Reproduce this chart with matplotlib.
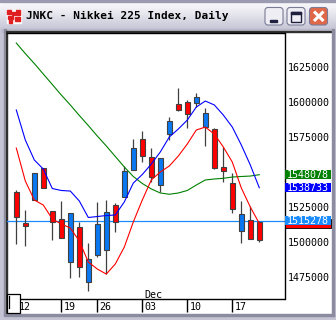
import matplotlib
matplotlib.use('Agg')
import matplotlib.pyplot as plt
import numpy as np
from matplotlib.patches import Rectangle, FancyBboxPatch
from matplotlib.transforms import offset_copy

# Daily candles, Nov 12 - Dec 20 (price x100)
opens = [1535900, 1513800, 1530000, 1552600, 1522500, 1516300, 1485400, 1510500,
         1471200, 1490700, 1494100, 1526600, 1532400, 1551100, 1573400, 1560600,
         1540700, 1576900, 1598600, 1600000, 1599100, 1581900, 1580500, 1553400,
         1542100, 1508100, 1515700, 1514100]
highs = [1537100, 1522900, 1549100, 1552600, 1522500, 1529300, 1520400, 1514100,
         1499300, 1528400, 1530000, 1527600, 1554300, 1573700, 1579500, 1567100,
         1560000, 1589300, 1609800, 1601200, 1606400, 1595500, 1581400, 1568100,
         1549300, 1529300, 1525400, 1515200]
lows = [1498400, 1497400, 1530000, 1538400, 1501600, 1503100, 1474100, 1475200,
        1465200, 1489500, 1477400, 1507100, 1532400, 1551100, 1556800, 1543100,
        1535900, 1573100, 1593600, 1581200, 1596200, 1568800, 1551900, 1542900,
        1520500, 1499100, 1501900, 1500200]
closes = [1518100, 1511200, 1549100, 1538400, 1514300, 1503100, 1520400, 1482400,
          1487600, 1512900, 1521200, 1514300, 1550700, 1566900, 1561600, 1546600,
          1560000, 1586600, 1594500, 1591200, 1603400, 1591900, 1552600, 1550400,
          1523900, 1520000, 1501900, 1501600]

ma_red = [1567100, 1543600, 1530000, 1526400, 1516400, 1512900, 1510000, 1500700,
          1485700, 1480700, 1477100, 1484300, 1496400, 1514300, 1530000, 1544300,
          1550000, 1554300, 1561400, 1570000, 1580000, 1582100, 1577100, 1567900,
          1557100, 1538600, 1525000, 1513300]
ma_blue = [1594300, 1572900, 1558600, 1552100, 1538200, 1536800, 1536400, 1529300,
           1517500, 1518200, 1518900, 1519300, 1528600, 1542100, 1548200, 1555700,
           1564300, 1575000, 1580700, 1587100, 1596400, 1600700, 1597900, 1590700,
           1582100, 1569300, 1555000, 1538733]
ma_green = [1642100, 1634600, 1627500, 1620000, 1612500, 1605000, 1597900, 1590400,
            1583200, 1575700, 1568600, 1561100, 1553600, 1546800, 1541800, 1537900,
            1535000, 1534100, 1535000, 1536800, 1540700, 1544300, 1545000, 1545500,
            1546400, 1546800, 1547100, 1548078]
last_line = 1515278

monday_idx = [0, 5, 9, 14, 19, 24]
monday_labels = ['12', '19', '26', '03', '10', '17']
grid_cols = [0, 5, 9, 14, 19, 24, 29]
price_ticks = [1475000, 1500000, 1525000, 1575000, 1600000, 1625000]

W, H = 336, 320
fig = plt.figure(figsize=(W / 100, H / 100), dpi=100)
fig.patch.set_facecolor('#c4c4d4')


def rect(x0, y0, x1, y1):
    return [x0 / W, 1 - y1 / H, (x1 - x0) / W, (y1 - y0) / H]


# window chrome (pixel coordinates)
bg = fig.add_axes([0, 0, 1, 1])
bg.set_xlim(0, W)
bg.set_ylim(H, 0)
bg.axis('off')
grad = np.linspace(0, 1, 30).reshape(-1, 1)
bg.imshow(grad, extent=[0, W, 29, 1], aspect='auto',
          cmap=matplotlib.colors.LinearSegmentedColormap.from_list('tb', ['#fcfcfe', '#e4e4ec', '#c6c6d6']))
bg.add_patch(Rectangle((0, 0), W, 1.5, color='#9a9ab0'))
bg.add_patch(Rectangle((2, 29), 332, 3, color='#b8b8c8'))
bg.add_patch(Rectangle((4, 29), 2, 286, color='#8c8ca0'))
bg.add_patch(Rectangle((6, 31), 327, 283, color='white'))
bg.add_patch(Rectangle((6, 31), 1.2, 283, color='#303030'))
bg.add_patch(Rectangle((6, 30.5), 327, 1.5, color='#303030'))
bg.add_patch(Rectangle((4, 314), 330, 2, color='#8c8ca0'))
bg.add_patch(Rectangle((332, 29), 2, 287, color='#8c8ca0'))

# icon
bg.add_patch(Rectangle((7, 10), 14, 13, color='white'))
for (ix, iy, iw, ih) in [(7, 10, 4, 4), (12, 12, 3, 3), (16, 10, 4, 5), (8, 16, 5, 3),
                         (15, 17, 5, 4), (9, 20, 3, 3)]:
    bg.add_patch(Rectangle((ix, iy), iw, ih, color='#e02020'))
bg.text(26, 16, 'JNKC - Nikkei 225 Index, Daily', family='DejaVu Sans Mono',
        fontsize=8, fontweight='bold', va='center', ha='left', color='black')

# title buttons
for bx, fc in [(265, '#eeeef4'), (287, '#eeeef4'), (309.5, '#e06848')]:
    bg.add_patch(FancyBboxPatch((bx, 7.5), 18, 17.5, boxstyle='round,pad=0,rounding_size=3',
                                fc=fc, ec='#7a7a96', lw=0.8))
bg.add_patch(Rectangle((270, 19.5), 7, 2.2, color='#202040'))
bg.add_patch(Rectangle((291, 11.5), 10, 10, fill=False, ec='#202040', lw=1.0))
bg.add_patch(Rectangle((291, 11.5), 10, 2, color='#202040'))
bg.plot([314, 323.5], [11.5, 21], color='white', lw=2.2, solid_capstyle='butt')
bg.plot([314, 323.5], [21, 11.5], color='white', lw=2.2, solid_capstyle='butt')

# chart
ax = fig.add_axes(rect(7, 32.5, 284.5, 299))
ax.set_facecolor('none')
n = len(closes)
x = np.arange(n)
ax.set_xlim(-1.033, 29.8)
ax.set_ylim(1459286, 1649643)

gx, gy = np.meshgrid(grid_cols, np.arange(1462500, 1645000, 12500))
ax.scatter(gx.ravel(), gy.ravel(), s=0.5, marker='s', color='#c0c0c0', lw=0, zorder=1)

ax.axhline(last_line, color='#1a8cff', lw=0.9, zorder=2)
ax.vlines(x, lows, highs, color='#404040', lw=0.9, zorder=3)
cols = ['#0a78f0' if c >= o else '#ff0000' for o, c in zip(opens, closes)]
ax.bar(x, np.array(closes) - np.array(opens), bottom=opens, width=0.56,
       color=cols, edgecolor='#404040', linewidth=0.8, zorder=4)
ax.plot(x, ma_green, color='#008000', lw=0.8, zorder=5)
ax.plot(x, ma_blue, color='#0000ff', lw=0.8, zorder=5)
ax.plot(x, ma_red, color='#ff0000', lw=0.8, zorder=5)

for s in ['top', 'right', 'bottom']:
    ax.spines[s].set_color('black')
    ax.spines[s].set_linewidth(1.0)
ax.spines['left'].set_visible(False)

ax.yaxis.tick_right()
ax.set_yticks(price_ticks)
ax.set_yticklabels([str(p) for p in price_ticks], family='DejaVu Sans Mono', fontsize=7.2)
ax.tick_params(axis='y', length=0, pad=2.2)

ax.set_xticks(monday_idx)
ax.set_xticklabels([])
ax.tick_params(axis='x', length=9.4, width=1.0, color='black', direction='out')
lab_tr = offset_copy(ax.get_xaxis_transform(), fig=fig, x=2.0, y=-7.5, units='dots')
for i, lab in zip(monday_idx, monday_labels):
    ax.text(i, 0, lab, transform=lab_tr, family='DejaVu Sans Mono', fontsize=7.2,
            ha='left', va='center', clip_on=False)
dec_tr = offset_copy(ax.get_xaxis_transform(), fig=fig, x=2.5, y=4.5, units='dots')
ax.text(14, 0, 'Dec', transform=dec_tr, family='DejaVu Sans Mono', fontsize=7.2,
        ha='left', va='center')

# value labels on the price scale (later ones drawn on top)
ytr = ax.get_yaxis_transform()
box_h = 9 * (1649643 - 1459286) / 266.5
labels = [(ma_green[-1], '#008000', 'none', True), (ma_blue[-1], '#0000ff', 'none', True),
          (ma_red[-1], '#ff0000', 'black', False), (last_line, '#1a8cff', 'none', True)]
for j, (val, fc, ec, show_text) in enumerate(labels):
    z = 10 + 2 * j
    ax.add_patch(Rectangle((1.002, val - box_h / 2), 45.5 / 277.5, box_h, transform=ytr,
                           fc=fc, ec=ec, lw=0.6, clip_on=False, zorder=z))
    if show_text:
        ax.text(1.0, val, str(val), transform=offset_copy(ytr, fig=fig, x=2.4, y=0, units='dots'),
                family='DejaVu Sans Mono', fontsize=7.2, color='white', ha='left',
                va='center', zorder=z + 1, clip_on=False)

# scroll thumb at bottom left
fg = fig.add_axes([0, 0, 1, 1])
fg.set_xlim(0, W)
fg.set_ylim(H, 0)
fg.axis('off')
fg.add_patch(Rectangle((7, 293.5), 12.5, 19.5, fc='white', ec='black', lw=0.9))
fg.plot([9.3, 9.3], [296, 308], color='black', lw=0.9)

fig.savefig('out.png', dpi=100, facecolor=fig.get_facecolor())
